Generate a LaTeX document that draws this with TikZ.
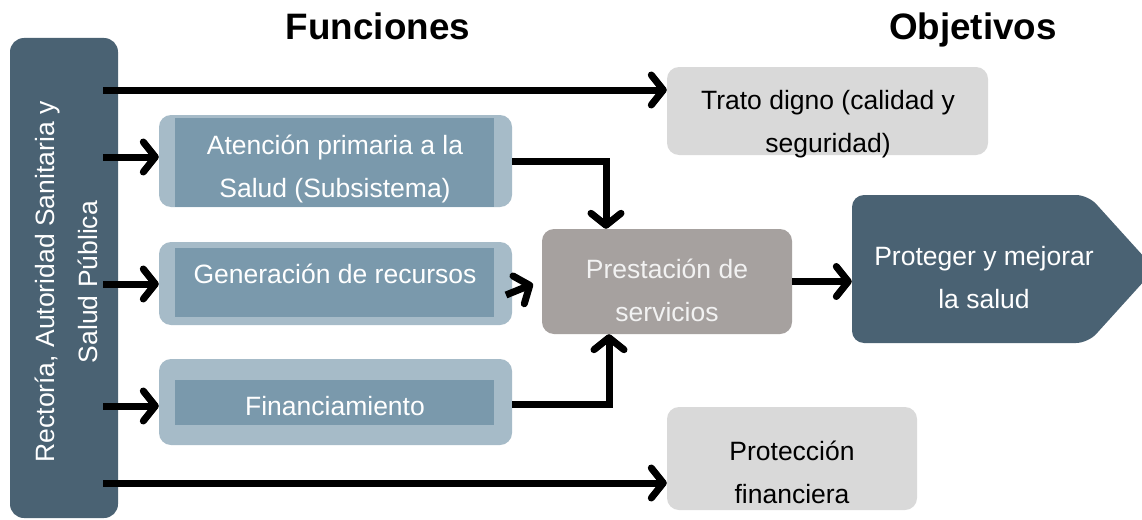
\documentclass[tikz,border=0pt]{standalone}
\usepackage{fontspec}
\setmainfont{Liberation Sans}
\usetikzlibrary{arrows.meta}
\definecolor{slate}{HTML}{4A6273}
\definecolor{lightblue}{HTML}{A6BBC8}
\definecolor{midblue}{HTML}{7A99AC}
\definecolor{warmgray}{HTML}{A6A19F}
\definecolor{palegray}{HTML}{D9D9D9}
\begin{document}
\begin{tikzpicture}[x=1pt,y=-1pt,
  arr/.style={line width=7pt,-{Straight Barb[length=12pt,width=30pt,round]}},
  body/.style={font=\fontsize{26.5}{43}\selectfont,align=center,inner sep=0pt},
  title/.style={font=\fontsize{36.8}{40}\selectfont\bfseries,inner sep=0pt,anchor=base},
  outerbox/.style={fill=lightblue,rounded corners=12pt,minimum width=353pt,inner sep=0pt},
  innerbox/.style={fill=midblue,minimum width=319pt,inner sep=0pt},
  objbox/.style={fill=palegray,rounded corners=12pt,inner sep=0pt}
]
\clip (0,0) rectangle (1142,519);
\fill[white] (0,0) rectangle (1142,519);

% titles
\node[title] (tfun) at (378,40) {Funciones};
\node[title] (tobj) at (973,40) {Objetivos};

% left box
\node[fill=slate,rounded corners=14pt,minimum width=108pt,minimum height=480pt,inner sep=0pt] (rect) at (64,278) {};
\node[body,text=white,rotate=90] (recttxt) at (66,282) {Rectoría, Autoridad Sanitaria y\\Salud Pública};

% function boxes
\node[outerbox,minimum height=92pt] (atnO) at (335.5,161) {};
\node[innerbox,minimum height=89pt] (atnI) at (334.5,162.5) {};
\node[body,text=white] (atn) at (335,169) {Atención primaria a la\\Salud (Subsistema)};

\node[outerbox,minimum height=83pt] (genO) at (335.5,283.5) {};
\node[innerbox,minimum height=69pt] (genI) at (334.5,282.5) {};
\node[body,text=white,anchor=base] (gen) at (335,283) {Generación de recursos};

\node[outerbox,minimum height=86pt] (finO) at (335.5,402) {};
\node[innerbox,minimum height=45pt] (finI) at (334.5,402.5) {};
\node[body,text=white,anchor=base] (fin) at (335,415) {Financiamiento};

% prestacion
\node[fill=warmgray,rounded corners=12pt,minimum width=250pt,minimum height=105pt,inner sep=0pt] (presB) at (667,281.5) {};
\node[body,text=white!95!black] (pres) at (667,290) {Prestación de\\servicios};

% objectives
\node[objbox,minimum width=321pt,minimum height=88pt] (tratoB) at (827.5,111) {};
\node[body] (trato) at (828,124) {Trato digno (calidad y\\seguridad)};
\node[objbox,minimum width=250pt,minimum height=103pt] (protB) at (792,458.5) {};
\node[body] (prot) at (792,472) {Protección\\financiera};

% proteger shape
\fill[slate,rounded corners=12pt] (852,195) -- (1088,195) [sharp corners] -- (1155,269) [rounded corners=12pt] -- (1088,343) -- (852,343) -- cycle;
\node[minimum width=290pt,minimum height=148pt,inner sep=0pt] (mejB) at (997,269) {};
\node[body,text=white] (mej) at (984,278) {Proteger y mejorar\\la salud};

% coordinates for free ends
\coordinate (s1) at (103,90);
\coordinate (s2) at (103,157);
\coordinate (s3) at (103,284);
\coordinate (s4) at (103,406);
\coordinate (s5) at (103,483);
\coordinate (g1) at (506,295);
\coordinate (g2) at (533,284);

% connectors
\draw[arr] (s1) -- (s1 -| tratoB.west);
\draw[arr] (s5) -- (s5 -| protB.west);
\draw[arr] (s2) -- (s2 -| atnO.west);
\draw[arr] (s3) -- (s3 -| genO.west);
\draw[arr] (s4) -- (s4 -| finO.west);
\draw[arr] (atnO.east |- 0,161) -| ([xshift=-61pt]presB.north);
\draw[arr] (finO.east |- 0,404) -| ([xshift=-58pt]presB.south);
\draw[arr] (g1) -- (g2);
\draw[arr] (presB.east) -- (presB.east -| mejB.west);
\end{tikzpicture}
\end{document}
